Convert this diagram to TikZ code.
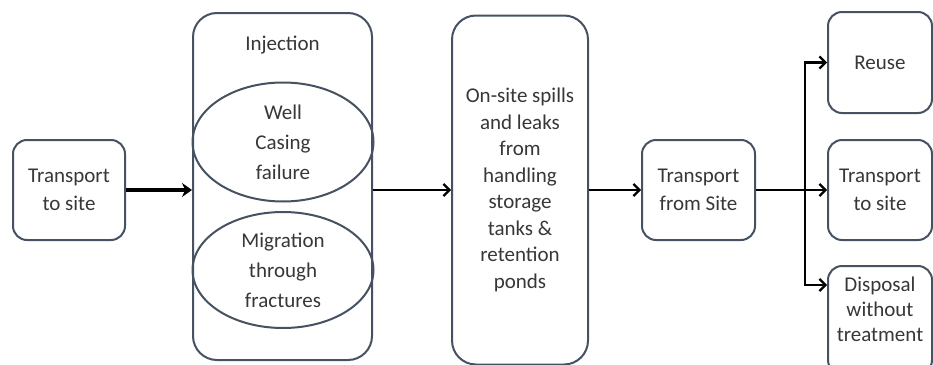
\documentclass[tikz,border=0pt]{standalone}
\usepackage{fontspec}
\setmainfont{Carlito}
\usetikzlibrary{arrows.meta,shapes.geometric}

\definecolor{edgecol}{RGB}{70,82,98}
\definecolor{textcol}{RGB}{55,55,55}

\begin{document}
\begin{tikzpicture}[x=1pt,y=-1pt,
  box/.style={draw=edgecol,line width=2pt,rounded corners=14pt,fill=white,text=textcol,
    align=center,inner sep=0pt,font=\fontsize{21}{28}\selectfont},
  tallbox/.style={box,rounded corners=24pt},
  txt/.style={text=textcol,align=center,inner sep=0pt,font=\fontsize{21}{25}\selectfont},
  oval/.style={ellipse,draw=edgecol,line width=2pt,text=textcol,align=center,
    inner sep=-18pt,font=\fontsize{21}{30}\selectfont},
  arr/.style={line width=2.2pt,-{Straight Barb[length=6pt,width=12pt,line width=2.2pt]}},
  thickarr/.style={line width=3.6pt,-{Stealth[length=10pt,width=14pt]}}]
\useasboundingbox (0,0) rectangle (933,364);

\node[box,minimum width=112pt,minimum height=100pt] (tra) at (69,190) {Transport\\to site};

\node[tallbox,minimum width=179pt,minimum height=347pt] (inj) at (282.5,186.5) {};
\node[txt] (injlbl) at (282.5,45) {Injection};
\node[oval,minimum width=181pt,minimum height=119pt] (well) at (283,142) {Well\\Casing\\failure};
\node[oval,minimum width=181pt,minimum height=116pt] (migr) at (283,270) {Migration\\through\\fractures};

\node[tallbox,minimum width=136pt,minimum height=349pt,font=\fontsize{21}{26.5}\selectfont] (spills) at (520,190)
  {On-site spills\\and leaks\\from\\handling\\storage\\tanks \&\\retention\\ponds};

\node[box,minimum width=113pt,minimum height=100pt] (tfs) at (698.5,190) {Transport\\from Site};

\node[box,minimum width=104pt,minimum height=101pt] (reuse) at (880,62.5) {Reuse};
\node[box,minimum width=104pt,minimum height=100pt] (tts) at (880,190) {Transport\\to site};
\node[box,minimum width=104pt,minimum height=108pt] (disp) at (880,320) {};
\node[txt] (disptxt) at (880,309) {Disposal\\without\\treatment};

\coordinate (split) at (805,190);
\coordinate (dispin) at ([yshift=35pt]disp.west);

\draw[thickarr] (tra.east) -- (tra.east -| inj.west);
\draw[arr] (inj.east |- spills.west) -- (spills.west);
\draw[arr] (spills.east) -- (tfs.west);
\draw[arr] (tfs.east) -- (tts.west);
\draw[arr] (split) |- (reuse.west);
\draw[arr] (split) |- (dispin);
\end{tikzpicture}
\end{document}
